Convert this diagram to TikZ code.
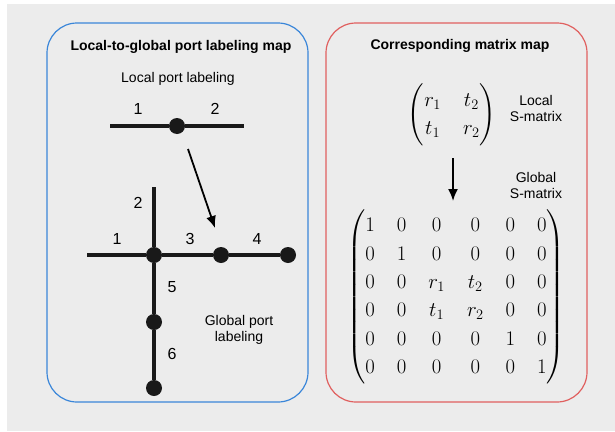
\documentclass[tikz,border=0pt]{standalone}
\usepackage{amsmath}
\usepackage[no-math]{fontspec}
\newfontfamily\helvfont{Liberation Sans}
\usepackage{tikz}
\definecolor{panelblue}{HTML}{3A86D9}
\definecolor{panelred}{HTML}{E0605F}
\definecolor{sheetgray}{HTML}{ECECEC}
\tikzset{
  panel/.style   = {draw, line width=1.2pt, rounded corners=30pt},
  heading/.style = {font=\helvfont\bfseries\fontsize{14}{16}\selectfont},
  caption/.style = {font=\helvfont\fontsize{14}{16}\selectfont, align=center},
  portnum/.style = {font=\helvfont\fontsize{16}{18}\selectfont, inner sep=0pt},
  port/.style    = {circle, fill=black!90, inner sep=0pt, minimum size=16pt},
  wire/.style    = {draw, line width=3.5pt, black!90},
  mapsto/.style  = {draw, -{Latex[length=12pt, width=10pt]}, line width=1.8pt},
  smat/.style    = {inner sep=0pt, font=\fontsize{20}{28.4}\selectfont}
}
\usetikzlibrary{positioning, arrows.meta}

\begin{document}
\begin{tikzpicture}[x=1pt, y=-1pt]
  \useasboundingbox (0,0) rectangle (615,431);
  \fill [sheetgray] (7,4) rectangle (615,431);

  % left panel: port labels
  \draw [panel, panelblue] (47,23) rectangle (308,402);
  \node [heading] (ltitle) at (181,47) {Local-to-global port labeling map};
  \node [caption] (lcap) at (178,79) {Local port labeling};

  \node [port] (lp) at (177,126) {};
  \coordinate (lw) at (110,126);
  \coordinate (le) at (244,126);
  \node [portnum] (ln1) at (138,109) {1};
  \node [portnum] (ln2) at (215,109) {2};
  \path [wire] (lw) edge (lp) (lp) edge (le);

  \node [port] (gj) at (154,255) {};
  \node [port] (ga) at (221,255) {};
  \node [port] (gb) at (288,255) {};
  \node [port] (gc) at (154,322) {};
  \node [port] (gd) at (154,388) {};
  \coordinate (gw) at (87,255);
  \coordinate (gn) at (154,187);
  \path [wire]
    (gw) edge (gj)
    (gj) edge (ga)
    (ga) edge (gb)
    (gn) edge (gj)
    (gj) edge (gc)
    (gc) edge (gd);
  \node [portnum] (gn1) at (117,239) {1};
  \node [portnum] (gn2) at (138,203) {2};
  \node [portnum] (gn3) at (190,239) {3};
  \node [portnum] (gn4) at (257,239) {4};
  \node [portnum] (gn5) at (172,287) {5};
  \node [portnum] (gn6) at (172,354) {6};
  \node [caption] (gcap) at (239,330) {Global port\\labeling};

  \coordinate (arrtail) at (188,149);
  \coordinate (arrtip) at (215,228);
  \path [mapsto] (arrtail) -- (arrtip);

  % right panel: matrices
  \draw [panel, panelred] (326,23) rectangle (587,402);
  \node [heading] (rtitle) at (460,46) {Corresponding matrix map};

  \node [smat] (localS) at (452,115)
    {\setlength\arraycolsep{11pt}$\begin{pmatrix} r_1 & t_2 \\ t_1 & r_2 \end{pmatrix}$};
  \node [caption] (localcap) at (536,108) {Local\\S-matrix};
  \node [caption] (globalcap) at (536,185) {Global\\S-matrix};

  \node [smat] (globalS) at (456,297)
    {\setlength\arraycolsep{11pt}$\begin{pmatrix}
      1 & 0 & 0 & 0 & 0 & 0 \\
      0 & 1 & 0 & 0 & 0 & 0 \\
      0 & 0 & r_1 & t_2 & 0 & 0 \\
      0 & 0 & t_1 & r_2 & 0 & 0 \\
      0 & 0 & 0 & 0 & 1 & 0 \\
      0 & 0 & 0 & 0 & 0 & 1
    \end{pmatrix}$};
  \coordinate (garrtail) at (453,158);
  \coordinate (garrtip) at (453,201);
  \path [mapsto] (garrtail) -- (garrtip);
\end{tikzpicture}
\end{document}
